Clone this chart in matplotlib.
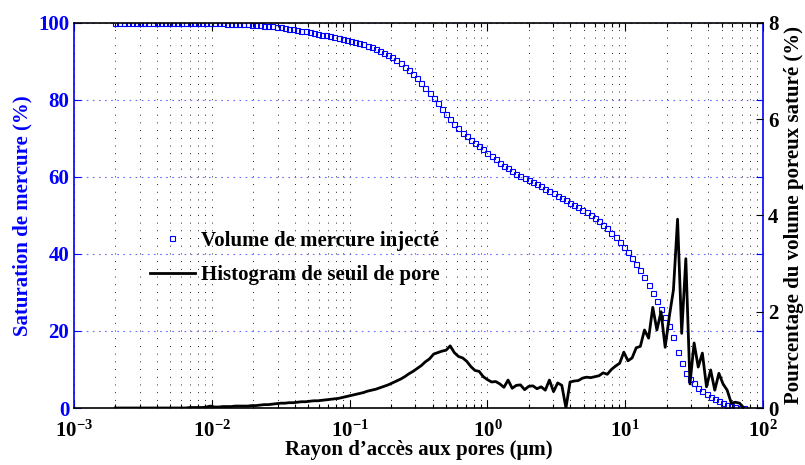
import numpy as np
import matplotlib
matplotlib.use('Agg')
import matplotlib.pyplot as plt
from matplotlib.ticker import FixedLocator, FuncFormatter, NullFormatter, LogLocator

plt.rcParams['font.family'] = ['Liberation Serif', 'DejaVu Serif']
plt.rcParams['font.weight'] = 'bold'
plt.rcParams['axes.labelweight'] = 'bold'
plt.rcParams['mathtext.fontset'] = 'custom'
plt.rcParams['mathtext.rm'] = 'Liberation Serif:bold'
plt.rcParams['mathtext.bf'] = 'Liberation Serif:bold'
plt.rcParams['mathtext.it'] = 'Liberation Serif:bold:italic'
plt.rcParams['lines.scale_dashes'] = False

# ---- data (pore throat radius as log10 of micrometres) ----
radius_exponent = [
    -2.70, -2.67, -2.64, -2.61, -2.58, -2.55, -2.52, -2.49, -2.46, -2.43,
    -2.40, -2.37, -2.34, -2.31, -2.28, -2.25, -2.22, -2.19, -2.16, -2.13,
    -2.10, -2.07, -2.04, -2.01, -1.98, -1.95, -1.92, -1.89, -1.86, -1.83,
    -1.80, -1.77, -1.74, -1.71, -1.68, -1.65, -1.62, -1.59, -1.56, -1.53,
    -1.50, -1.47, -1.44, -1.41, -1.38, -1.35, -1.32, -1.29, -1.26, -1.23,
    -1.20, -1.17, -1.14, -1.11, -1.08, -1.05, -1.02, -0.99, -0.96, -0.93,
    -0.90, -0.87, -0.84, -0.81, -0.78, -0.75, -0.72, -0.69, -0.66, -0.63,
    -0.60, -0.57, -0.54, -0.51, -0.48, -0.45, -0.42, -0.39, -0.36, -0.33,
    -0.30, -0.27, -0.24, -0.21, -0.18, -0.15, -0.12, -0.09, -0.06, -0.03,
    0.00, 0.03, 0.06, 0.09, 0.12, 0.15, 0.18, 0.21, 0.24, 0.27,
    0.30, 0.33, 0.36, 0.39, 0.42, 0.45, 0.48, 0.51, 0.54, 0.57,
    0.60, 0.63, 0.66, 0.69, 0.72, 0.75, 0.78, 0.81, 0.84, 0.87,
    0.90, 0.93, 0.96, 0.99, 1.02, 1.05, 1.08, 1.11, 1.14, 1.17,
    1.20, 1.23, 1.26, 1.29, 1.32, 1.35, 1.38, 1.41, 1.44, 1.47,
    1.50, 1.53, 1.56, 1.59, 1.62, 1.65, 1.68, 1.71, 1.74, 1.77,
    1.80, 1.83, 1.86,
]

saturation = [
    100.0, 100.0, 100.0, 100.0, 100.0, 100.0, 100.0, 100.0, 100.0, 100.0,
    100.0, 99.99, 99.98, 99.97, 99.96, 99.95, 99.94, 99.93, 99.92, 99.91,
    99.90, 99.89, 99.87, 99.85, 99.84, 99.82, 99.80, 99.78, 99.75, 99.73,
    99.70, 99.64, 99.57, 99.50, 99.42, 99.34, 99.26, 99.17, 99.08, 98.99,
    98.90, 98.70, 98.49, 98.27, 98.08, 97.90, 97.72, 97.53, 97.32, 97.11,
    96.90, 96.69, 96.48, 96.27, 96.04, 95.80, 95.56, 95.30, 95.00, 94.71,
    94.40, 94.02, 93.63, 93.24, 92.75, 92.20, 91.62, 90.98, 90.22, 89.42,
    88.60, 87.62, 86.60, 85.55, 84.35, 83.10, 81.85, 80.50, 79.10, 77.70,
    76.30, 75.00, 73.80, 72.60, 71.50, 70.50, 69.60, 68.75, 67.90, 67.10,
    66.30, 65.40, 64.50, 63.70, 62.90, 62.20, 61.50, 60.80, 60.25, 59.75,
    59.20, 58.65, 58.10, 57.50, 56.90, 56.30, 55.70, 55.10, 54.50, 53.90,
    53.30, 52.70, 52.05, 51.40, 50.75, 50.05, 49.30, 48.45, 47.55, 46.60,
    45.50, 44.40, 43.20, 41.90, 40.50, 39.00, 37.50, 35.90, 34.00, 32.00,
    29.80, 27.70, 25.80, 23.70, 21.20, 18.30, 14.50, 11.80, 9.00, 7.60,
    6.40, 5.30, 4.40, 3.60, 2.90, 2.30, 1.75, 1.25, 0.80, 0.45,
    0.20, 0.05, 0.00,
]

histogram = [
    0.00, 0.00, 0.00, 0.00, 0.00, 0.00, 0.00, 0.00, 0.00, 0.00,
    0.00, 0.00, 0.00, 0.00, 0.00, 0.00, 0.00, 0.00, 0.01, 0.01,
    0.01, 0.01, 0.02, 0.04, 0.02, 0.02, 0.03, 0.03, 0.03, 0.04,
    0.04, 0.04, 0.04, 0.05, 0.05, 0.06, 0.07, 0.07, 0.08, 0.09,
    0.10, 0.10, 0.11, 0.11, 0.12, 0.13, 0.13, 0.14, 0.15, 0.15,
    0.16, 0.17, 0.18, 0.19, 0.20, 0.22, 0.24, 0.26, 0.28, 0.30,
    0.32, 0.35, 0.37, 0.39, 0.42, 0.45, 0.48, 0.52, 0.56, 0.60,
    0.65, 0.71, 0.76, 0.82, 0.88, 0.96, 1.02, 1.12, 1.15, 1.18,
    1.20, 1.29, 1.15, 1.07, 1.04, 0.97, 0.86, 0.78, 0.76, 0.65,
    0.59, 0.54, 0.55, 0.50, 0.43, 0.58, 0.41, 0.47, 0.48, 0.38,
    0.45, 0.46, 0.40, 0.44, 0.37, 0.58, 0.34, 0.52, 0.47, 0.00,
    0.54, 0.56, 0.57, 0.62, 0.64, 0.63, 0.65, 0.67, 0.73, 0.70,
    0.80, 0.87, 0.93, 1.16, 0.98, 1.04, 1.25, 1.28, 1.62, 1.45,
    2.09, 1.62, 2.00, 1.26, 1.90, 2.45, 3.92, 1.55, 3.10, 0.50,
    1.35, 0.85, 1.14, 0.44, 0.79, 0.37, 0.72, 0.50, 0.37, 0.10,
    0.12, 0.10, 0.00,
]

x_decades = [-3, -2, -1, 0, 1, 2]
left_ticks = [0, 20, 40, 60, 80, 100]
right_ticks = [0, 2, 4, 6, 8]
legend_labels = ['Volume de mercure inject\u00e9', 'Histogram de seuil de pore']
x_label = 'Rayon d\u2019acc\u00e8s aux pores (\u03bcm)'
left_label = 'Saturation de mercure (%)'
right_label = 'Pourcentage du volume poreux satur\u00e9 (%)'

radius = 10.0 ** np.array(radius_exponent)
blue = '#0000ff'

fig = plt.figure(figsize=(8.05, 4.65), dpi=100)
ax1 = fig.add_axes([74 / 805, 57 / 465, 689 / 805, 385.3 / 465])
ax1.set_xscale('log')
ax2 = ax1.twinx()

l1, = ax1.plot(radius, saturation, linestyle='none', marker='s', markersize=3.6,
               markerfacecolor='none', markeredgecolor=blue, markeredgewidth=0.8)
l2, = ax2.plot(radius, histogram, color='black', lw=2.0)

ax1.set_xlim(1e-3, 1e2)
ax1.set_ylim(0, 100)
ax2.set_ylim(0, 8)

ax1.xaxis.set_major_locator(FixedLocator([10.0 ** k for k in x_decades]))
ax1.xaxis.set_major_formatter(FuncFormatter(
    lambda v, p: r'$10^{%d}$' % int(round(np.log10(v)))))
ax1.xaxis.set_minor_locator(LogLocator(base=10, subs=range(2, 10), numticks=50))
ax1.xaxis.set_minor_formatter(NullFormatter())
ax1.set_yticks(left_ticks)
ax2.set_yticks(right_ticks)

ax1.grid(True, which='both', axis='x', color='black',
         linestyle=(0, (0.6, 4.95)), linewidth=0.7)
ax1.grid(True, which='major', axis='y', color='#6a6aff',
         linestyle=(0, (1.2, 3.2)), linewidth=0.8)

for s in ['left', 'right']:
    ax1.spines[s].set_color(blue)
for s in ['top', 'bottom']:
    ax1.spines[s].set_color('black')
for s in ax1.spines.values():
    s.set_linewidth(1.2)
for s in ax2.spines.values():
    s.set_visible(False)

ax1.tick_params(axis='x', which='major', direction='in', length=5.8, width=0.8,
                top=True, bottom=True, labelsize=15, colors='black', pad=9)
ax1.tick_params(axis='x', which='minor', direction='in', length=2.9, width=0.8,
                top=True, bottom=True, colors='black')
ax1.tick_params(axis='y', which='major', direction='in', length=5, width=0.8,
                left=True, right=True, labelleft=True, labelright=False,
                colors=blue, labelsize=15)
ax2.tick_params(axis='y', which='major', direction='in', length=5, width=0.8,
                left=False, right=True, labelright=True, colors='black', labelsize=15)

ax1.set_xlabel(x_label, fontsize=15, labelpad=-1)
ax1.set_ylabel(left_label, fontsize=15, color=blue)
ax2.set_ylabel(right_label, fontsize=15, color='black')

ax2.legend([l1, l2], legend_labels, loc='upper left', bbox_to_anchor=(0.11, 0.46),
           frameon=False, fontsize=15, handlelength=2.15, handletextpad=0.3,
           labelspacing=0.7, borderpad=0, borderaxespad=0, numpoints=1)

fig.savefig('out.png', dpi=100)
